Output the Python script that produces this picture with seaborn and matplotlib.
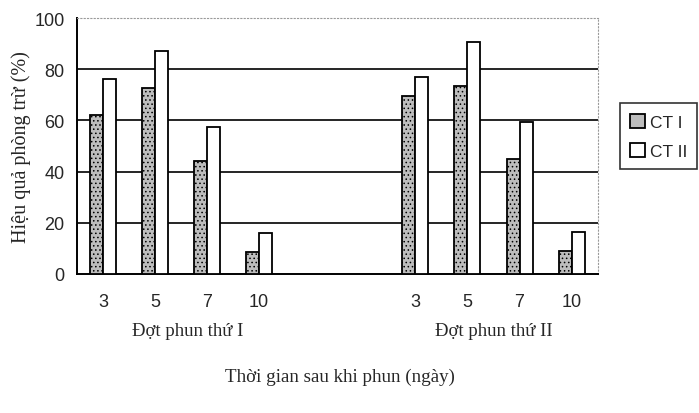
import matplotlib
matplotlib.use("Agg")
import matplotlib.pyplot as plt
import seaborn as sns
import pandas as pd

# Slot labels along the x axis (two spraying rounds, two empty slots between)
slots = ["I-3", "I-5", "I-7", "I-10", "gap1", "gap2", "II-3", "II-5", "II-7", "II-10"]
slot_labels = ["3", "5", "7", "10", "", "", "3", "5", "7", "10"]
data_slots = ["I-3", "I-5", "I-7", "I-10", "II-3", "II-5", "II-7", "II-10"]

# Control efficacy (%) per treatment
ct1 = [62, 72.5, 44, 8.5, 69.5, 73.5, 45, 9]
ct2 = [76, 87, 57.5, 16, 77, 90.5, 59.5, 16.5]
series = ["CT I", "CT II"]

df = pd.DataFrame({
    "slot": data_slots * 2,
    "value": ct1 + ct2,
    "series": [series[0]] * len(ct1) + [series[1]] * len(ct2),
})

sns.set_style("white")
matplotlib.rcParams["hatch.color"] = "#6e6e6e"
matplotlib.rcParams["hatch.linewidth"] = 0.6
fig = plt.figure(figsize=(6.99, 4.14), dpi=100)
ax = fig.add_axes([0.110, 0.336, 0.745, 0.618])

sns.barplot(data=df, x="slot", y="value", hue="series", order=slots,
            hue_order=series, palette=["#bdbdbd", "white"], width=0.5,
            edgecolor="black", linewidth=1.3, ax=ax, legend=True, zorder=3)

# stippled fill for the first treatment
for bar in ax.containers[0]:
    bar.set_hatch("....")
    bar.set_edgecolor("black")

ax.set_ylim(0, 100)
ax.set_xlim(-0.5, len(slots) - 0.5)
ax.set_yticks([0, 20, 40, 60, 80, 100])
ax.set_yticklabels(["0", "20", "40", "60", "80", "100"],
                   fontfamily="Liberation Sans", fontsize=13)

for y in [20, 40, 60, 80]:
    ax.axhline(y, color="black", lw=1.2, zorder=1)

# ticks on slot boundaries, labels centred in slots
ax.set_xticks([i - 0.5 for i in range(len(slots) + 1)])
ax.set_xticklabels([])
ax.set_xticks(range(len(slots)), minor=True)
ax.set_xticklabels(slot_labels, minor=True, fontfamily="Liberation Sans", fontsize=13)
ax.tick_params(axis="x", which="major", direction="out", length=5, width=1.2, color="black")
ax.tick_params(axis="x", which="minor", length=0, pad=14)
ax.tick_params(axis="y", direction="inout", length=8, width=1.2, color="black", pad=5)

ax.set_xlabel("")
ax.set_ylabel("Hiệu quả phòng trừ (%)", fontfamily="Liberation Serif", fontsize=14.5,
              labelpad=2)

for side in ["left", "bottom"]:
    ax.spines[side].set_visible(True)
    ax.spines[side].set_color("black")
    ax.spines[side].set_linewidth(1.4)
for side in ["top", "right"]:
    ax.spines[side].set_visible(True)
    ax.spines[side].set_color("#9a9a9a")
    ax.spines[side].set_linewidth(0.8)
    ax.spines[side].set_linestyle((0, (1, 2)))

fig.text(0.269, 0.200, "Đợt phun thứ I", ha="center", va="center",
         fontfamily="Liberation Serif", fontsize=13.5)
fig.text(0.706, 0.200, "Đợt phun thứ II", ha="center", va="center",
         fontfamily="Liberation Serif", fontsize=13.5)
fig.text(0.487, 0.088, "Thời gian sau khi phun (ngày)", ha="center", va="center",
         fontfamily="Liberation Serif", fontsize=13.7)

leg = ax.legend(loc="upper left", bbox_to_anchor=(0.887, 0.748),
                bbox_transform=fig.transFigure, frameon=True, fancybox=False,
                handlelength=0.85, handleheight=0.85, handletextpad=0.25,
                borderpad=0.6, labelspacing=0.75, borderaxespad=0,
                prop={"family": "Liberation Sans", "size": 12.5})
leg.get_frame().set_edgecolor("black")
leg.get_frame().set_linewidth(1.2)

fig.savefig("out.png", dpi=100)
